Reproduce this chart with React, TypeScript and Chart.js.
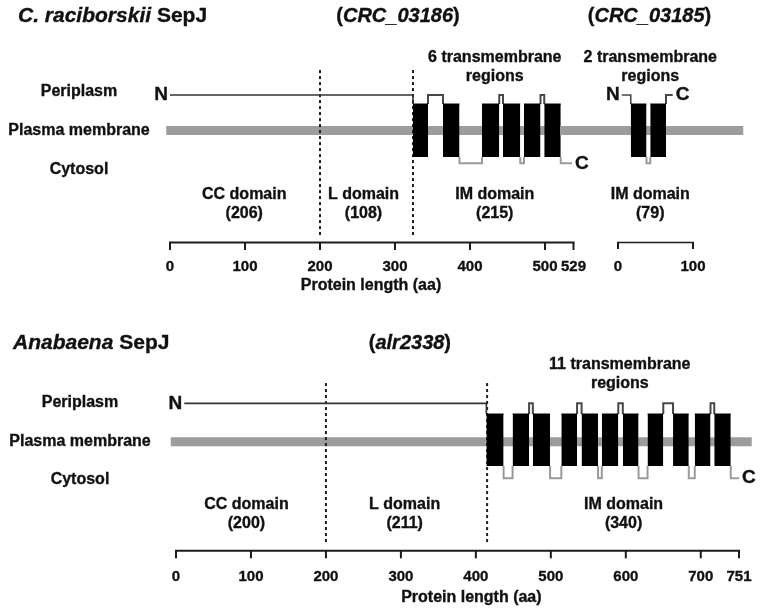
import React, { useEffect, useRef } from 'react';
import { Chart, registerables } from 'chart.js';

Chart.register(...registerables);

type Side = 'peri' | 'cyto';

// ===================== DATA =====================
// --- C. raciborskii SepJ, CRC_03186 (aa) ---
const CRC86_LENGTH = 529;
const CRC86_AXIS_END = 538; // where the drawn axis ends in the figure
const CRC86_TICK_VALUES = [0, 100, 200, 300, 400, 500, CRC86_AXIS_END];
const CRC86_TICK_LABELS = ['0', '100', '200', '300', '400', '500', String(CRC86_LENGTH)];
const CRC86_TM_START = [324, 364, 416, 444, 472, 499];
const CRC86_TM_END = [344, 386, 439, 467, 494, 521];
const CRC86_LOOP_SIDES: Side[] = ['peri', 'cyto', 'peri', 'cyto', 'peri'];
const CRC86_N_TAIL_START = 0;
const CRC86_C_TAIL_END = 536;
const CRC86_C_SIDE: Side = 'cyto';
const CRC86_MEMBRANE = [-5, 590];
const CRC86_DIVIDERS = [200, 324];
const CRC86_DOMAIN_NAMES = ['CC domain', 'L domain', 'IM domain'];
const CRC86_DOMAIN_SIZES = [206, 108, 215];
const CRC86_DOMAIN_LABEL_POS = [99, 258, 433];
const CRC86_TM_LABEL_POS = 433;
const CRC86_ID_LABEL_POS = 304;
const CRC86_AXIS_TITLE_POS = 268;

// --- C. raciborskii, CRC_03185 (aa) ---
const CRC85_TICK_VALUES = [0, 100];
const CRC85_TICK_LABELS = ['0', '100'];
const CRC85_TM_START = [17, 43];
const CRC85_TM_END = [38, 64];
const CRC85_LOOP_SIDES: Side[] = ['cyto'];
const CRC85_N_TAIL_START = 5;
const CRC85_C_TAIL_END = 73;
const CRC85_C_SIDE: Side = 'peri';
const CRC85_MEMBRANE = [-80, 167];
const CRC85_DIVIDERS: number[] = [];
const CRC85_DOMAIN_NAMES = ['IM domain'];
const CRC85_DOMAIN_SIZES = [79];
const CRC85_DOMAIN_LABEL_POS = [43];
const CRC85_TM_LABEL_POS = 43;
const CRC85_ID_LABEL_POS = 42;

// --- Anabaena SepJ, alr2338 (aa) ---
const ALR_TICK_VALUES = [0, 100, 200, 300, 400, 500, 600, 700, 751];
const ALR_TICK_LABELS = ['0', '100', '200', '300', '400', '500', '600', '700', '751'];
const ALR_TM_START = [414, 449, 476, 514, 541, 568, 596, 629, 663, 692, 718];
const ALR_TM_END = [437, 471, 499, 535, 563, 590, 617, 650, 684, 713, 740];
const ALR_LOOP_SIDES: Side[] = ['cyto', 'peri', 'cyto', 'peri', 'cyto', 'peri', 'cyto', 'peri', 'cyto', 'peri'];
const ALR_N_TAIL_START = 11;
const ALR_C_TAIL_END = 751;
const ALR_C_SIDE: Side = 'cyto';
const ALR_MEMBRANE = [-7, 768];
const ALR_DIVIDERS = [200, 415];
const ALR_DOMAIN_NAMES = ['CC domain', 'L domain', 'IM domain'];
const ALR_DOMAIN_SIZES = [200, 211, 340];
const ALR_DOMAIN_LABEL_POS = [94, 305, 597];
const ALR_TM_LABEL_POS = 592;
const ALR_ID_LABEL_POS = 312;
const ALR_AXIS_TITLE_POS = 394;

const ROW_LABELS = ['Periplasm', 'Plasma membrane', 'Cytosol'];

// ===================== STYLE =====================
const FONT = '"Liberation Sans", Arial, Helvetica, sans-serif';
const TEXT_COLOR = '#111111';
const AXIS_COLOR = '#1c1c1c';
const MEMBRANE_COLOR = '#9c9c9c';
const PERI_COLOR = '#474747';
const CYTO_COLOR = '#9a9a9a';
const N_COLOR = '#333333';
const BOX_COLOR = '#000000';
const DIVIDER_COLOR = '#1c1c1c';

interface Levels {
  peri: number;
  cyto: number;
  membrane: number;
  divTop: number;
  divBottom: number;
}
const TOP_LEVELS: Levels = { peri: 1.34, cyto: -1.24, membrane: 0, divTop: 2.28, divBottom: -3.94 };
const BOTTOM_LEVELS: Levels = { peri: 1.41, cyto: -1.47, membrane: -0.07, divTop: 2.19, divBottom: -4.04 };

interface Protein {
  tmStart: number[];
  tmEnd: number[];
  loopSides: Side[];
  nStart: number;
  cEnd: number;
  cSide: Side;
  membrane: number[];
  dividers: number[];
  nColor: string;
}

type Run = { t: string; i?: boolean };

function fontOf(size: number, italic?: boolean) {
  return `${italic ? 'italic ' : ''}bold ${size}px ${FONT}`;
}

function drawRuns(ctx: CanvasRenderingContext2D, runs: Run[], x: number, y: number, size: number, align: 'left' | 'center' | 'right' = 'center') {
  ctx.save();
  ctx.fillStyle = TEXT_COLOR;
  ctx.strokeStyle = TEXT_COLOR;
  ctx.lineWidth = 0.35;
  ctx.textBaseline = 'middle';
  ctx.textAlign = 'left';
  const widths = runs.map((r) => {
    ctx.font = fontOf(size, r.i);
    return ctx.measureText(r.t).width;
  });
  const total = widths.reduce((a, b) => a + b, 0);
  let cx = align === 'left' ? x : align === 'center' ? x - total / 2 : x - total;
  runs.forEach((r, k) => {
    ctx.font = fontOf(size, r.i);
    ctx.fillText(r.t, cx, y);
    ctx.strokeText(r.t, cx, y);
    cx += widths[k];
  });
  ctx.restore();
}

function txt(ctx: CanvasRenderingContext2D, s: string, x: number, y: number, size: number, align: 'left' | 'center' | 'right' = 'center') {
  drawRuns(ctx, [{ t: s }], x, y, size, align);
}

function buildDatasets(p: Protein, lv: Levels) {
  const ds: any[] = [];
  const L = (data: { x: number; y: number }[], color: string, width: number, order: number, extra: any = {}) => ({
    data,
    borderColor: color,
    backgroundColor: color,
    borderWidth: width,
    pointRadius: 0,
    pointHoverRadius: 0,
    fill: false,
    tension: 0,
    clip: false,
    order,
    borderCapStyle: 'butt',
    borderJoinStyle: 'miter',
    ...extra,
  });
  // membrane
  ds.push(L([{ x: p.membrane[0], y: lv.membrane }, { x: p.membrane[1], y: lv.membrane }], MEMBRANE_COLOR, 9, 10));
  // domain dividers
  p.dividers.forEach((d) =>
    ds.push(L([{ x: d, y: lv.divTop }, { x: d, y: lv.divBottom }], DIVIDER_COLOR, 2, 8, { borderDash: [3, 3] }))
  );
  // N-terminal tail (periplasm)
  const s0 = p.tmStart[0];
  ds.push(L([{ x: p.nStart, y: lv.peri }, { x: s0, y: lv.peri }, { x: s0, y: 1 }], p.nColor, 1.6, 5));
  // loops
  p.loopSides.forEach((side, i) => {
    const a = p.tmEnd[i];
    const b = p.tmStart[i + 1];
    const edge = side === 'peri' ? 1 : -1;
    const lvl = side === 'peri' ? lv.peri : lv.cyto;
    ds.push(
      L([{ x: a, y: edge }, { x: a, y: lvl }, { x: b, y: lvl }, { x: b, y: edge }], side === 'peri' ? PERI_COLOR : CYTO_COLOR, 2, 5)
    );
  });
  // C-terminal tail
  const eLast = p.tmEnd[p.tmEnd.length - 1];
  const cEdge = p.cSide === 'peri' ? 1 : -1;
  const cLvl = p.cSide === 'peri' ? lv.peri : lv.cyto;
  ds.push(
    L([{ x: eLast, y: cEdge }, { x: eLast, y: cLvl }, { x: p.cEnd, y: cLvl }], p.cSide === 'peri' ? PERI_COLOR : CYTO_COLOR, 2, 5)
  );
  // transmembrane boxes
  p.tmStart.forEach((s, i) =>
    ds.push(L([{ x: s, y: 1 }, { x: p.tmEnd[i], y: 1 }], BOX_COLOR, 1, 1, { fill: { value: -1 } }))
  );
  return ds;
}

function drawAxis(chart: any, values: number[], labels: string[], y: number, lineW: number, labelY: number, tickLen: number) {
  const xs = chart.scales.x;
  const ctx: CanvasRenderingContext2D = chart.ctx;
  const x0 = xs.getPixelForValue(values[0]);
  const x1 = xs.getPixelForValue(values[values.length - 1]);
  ctx.save();
  ctx.strokeStyle = AXIS_COLOR;
  ctx.lineCap = 'butt';
  ctx.lineWidth = lineW;
  ctx.beginPath();
  ctx.moveTo(x0 - 1, y);
  ctx.lineTo(x1 + 1, y);
  ctx.stroke();
  values.forEach((t, k) => {
    const px = xs.getPixelForValue(t);
    ctx.lineWidth = 2;
    ctx.beginPath();
    ctx.moveTo(px, y);
    ctx.lineTo(px, y + tickLen);
    ctx.stroke();
    txt(ctx, labels[k], px, labelY, 15);
  });
  ctx.restore();
}

function drawTerminals(chart: any, p: Protein, lv: Levels) {
  const xs = chart.scales.x;
  const ys = chart.scales.y;
  const ctx = chart.ctx;
  drawRuns(ctx, [{ t: 'N' }], xs.getPixelForValue(p.nStart) - 2, ys.getPixelForValue(lv.peri), 19, 'right');
  const cy = ys.getPixelForValue(p.cSide === 'peri' ? lv.peri : lv.cyto);
  drawRuns(ctx, [{ t: 'C' }], xs.getPixelForValue(p.cEnd) + 3, cy, 19, 'left');
}

function drawDomains(chart: any, names: string[], sizes: number[], pos: number[], y1: number, y2: number) {
  const xs = chart.scales.x;
  names.forEach((n, i) => {
    const px = xs.getPixelForValue(pos[i]);
    txt(chart.ctx, n, px, y1, 16);
    txt(chart.ctx, `(${sizes[i]})`, px, y2, 16);
  });
}

function drawTmLabel(chart: any, count: number, pos: number, y1: number, y2: number) {
  const px = chart.scales.x.getPixelForValue(pos);
  txt(chart.ctx, `${count} transmembrane`, px, y1, 16);
  txt(chart.ctx, 'regions', px, y2, 16);
}

function makeConfig(xMax: number, padding: any, datasets: any[], annotate: (c: any) => void) {
  return {
    type: 'line',
    data: { datasets },
    options: {
      animation: false,
      responsive: false,
      maintainAspectRatio: false,
      events: [],
      layout: { padding },
      scales: {
        x: { type: 'linear', min: 0, max: xMax, display: false },
        y: { type: 'linear', min: -1, max: 1, display: false },
      },
      plugins: { legend: { display: false }, tooltip: { enabled: false } },
    },
    plugins: [{ id: 'annot', afterDraw: (c: any) => annotate(c) }],
  } as any;
}

// ===================== PROTEINS =====================
const CRC86: Protein = {
  tmStart: CRC86_TM_START,
  tmEnd: CRC86_TM_END,
  loopSides: CRC86_LOOP_SIDES,
  nStart: CRC86_N_TAIL_START,
  cEnd: CRC86_C_TAIL_END,
  cSide: CRC86_C_SIDE,
  membrane: CRC86_MEMBRANE,
  dividers: CRC86_DIVIDERS,
  nColor: N_COLOR,
};
const CRC85: Protein = {
  tmStart: CRC85_TM_START,
  tmEnd: CRC85_TM_END,
  loopSides: CRC85_LOOP_SIDES,
  nStart: CRC85_N_TAIL_START,
  cEnd: CRC85_C_TAIL_END,
  cSide: CRC85_C_SIDE,
  membrane: CRC85_MEMBRANE,
  dividers: CRC85_DIVIDERS,
  nColor: PERI_COLOR,
};
const ALR: Protein = {
  tmStart: ALR_TM_START,
  tmEnd: ALR_TM_END,
  loopSides: ALR_LOOP_SIDES,
  nStart: ALR_N_TAIL_START,
  cEnd: ALR_C_TAIL_END,
  cSide: ALR_C_SIDE,
  membrane: ALR_MEMBRANE,
  dividers: ALR_DIVIDERS,
  nColor: N_COLOR,
};

function configTopMain() {
  return makeConfig(
    CRC86_AXIS_END,
    { left: 170, right: 26.5, top: 104, bottom: 143 },
    buildDatasets(CRC86, TOP_LEVELS),
    (c) => {
      const ctx = c.ctx;
      const xs = c.scales.x;
      drawRuns(ctx, [{ t: 'C. raciborskii', i: true }, { t: ' SepJ' }], 18, 16, 21, 'left');
      drawRuns(ctx, [{ t: '(' }, { t: 'CRC_03186', i: true }, { t: ')' }], xs.getPixelForValue(CRC86_ID_LABEL_POS), 16, 20);
      drawTmLabel(c, CRC86_TM_START.length, CRC86_TM_LABEL_POS, 57.5, 76.7);
      txt(ctx, ROW_LABELS[0], 79, 91.6, 16);
      txt(ctx, ROW_LABELS[1], 79, 130.3, 16);
      txt(ctx, ROW_LABELS[2], 79, 169.5, 16);
      drawTerminals(c, CRC86, TOP_LEVELS);
      drawDomains(c, CRC86_DOMAIN_NAMES, CRC86_DOMAIN_SIZES, CRC86_DOMAIN_LABEL_POS, 195, 213.5);
      drawAxis(c, CRC86_TICK_VALUES, CRC86_TICK_LABELS, 242.5, 2, 266.7, 7.5);
      txt(ctx, 'Protein length (aa)', xs.getPixelForValue(CRC86_AXIS_TITLE_POS), 285.5, 16);
    }
  );
}

function configTopSmall() {
  return makeConfig(
    CRC85_TICK_VALUES[CRC85_TICK_VALUES.length - 1],
    { left: 58, right: 67, top: 104, bottom: 143 },
    buildDatasets(CRC85, TOP_LEVELS),
    (c) => {
      const ctx = c.ctx;
      const xs = c.scales.x;
      drawRuns(ctx, [{ t: '(' }, { t: 'CRC_03185', i: true }, { t: ')' }], xs.getPixelForValue(CRC85_ID_LABEL_POS), 16, 20);
      drawTmLabel(c, CRC85_TM_START.length, CRC85_TM_LABEL_POS, 57.5, 76.7);
      drawTerminals(c, CRC85, TOP_LEVELS);
      drawDomains(c, CRC85_DOMAIN_NAMES, CRC85_DOMAIN_SIZES, CRC85_DOMAIN_LABEL_POS, 195, 213.5);
      drawAxis(c, CRC85_TICK_VALUES, CRC85_TICK_LABELS, 242.5, 1.5, 266.7, 6.5);
    }
  );
}

function configBottom() {
  return makeConfig(
    ALR_TICK_VALUES[ALR_TICK_VALUES.length - 1],
    { left: 176, right: 21, top: 114, bottom: 145 },
    buildDatasets(ALR, BOTTOM_LEVELS),
    (c) => {
      const ctx = c.ctx;
      const xs = c.scales.x;
      drawRuns(ctx, [{ t: 'Anabaena', i: true }, { t: ' SepJ' }], 13, 43, 21, 'left');
      drawRuns(ctx, [{ t: '(' }, { t: 'alr2338', i: true }, { t: ')' }], xs.getPixelForValue(ALR_ID_LABEL_POS), 43, 20);
      drawTmLabel(c, ALR_TM_START.length, ALR_TM_LABEL_POS, 65, 84);
      txt(ctx, ROW_LABELS[0], 80, 102.5, 16);
      txt(ctx, ROW_LABELS[1], 80, 141.7, 16);
      txt(ctx, ROW_LABELS[2], 80, 179.5, 16);
      drawTerminals(c, ALR, BOTTOM_LEVELS);
      drawDomains(c, ALR_DOMAIN_NAMES, ALR_DOMAIN_SIZES, ALR_DOMAIN_LABEL_POS, 204.5, 224);
      drawAxis(c, ALR_TICK_VALUES, ALR_TICK_LABELS, 250.8, 2, 276.7, 7.5);
      txt(ctx, 'Protein length (aa)', xs.getPixelForValue(ALR_AXIS_TITLE_POS), 298, 16);
    }
  );
}

function ChartCanvas(props: { left: number; top: number; width: number; height: number; make: () => any }) {
  const ref = useRef<HTMLCanvasElement>(null);
  useEffect(() => {
    const chart = new Chart(ref.current as HTMLCanvasElement, props.make());
    return () => chart.destroy();
  }, []);
  return (
    <canvas
      ref={ref}
      width={props.width}
      height={props.height}
      style={{ position: 'absolute', left: props.left, top: props.top, width: props.width, height: props.height }}
    />
  );
}

export default function App() {
  return (
    <div style={{ position: 'absolute', left: 0, top: 0, width: 760, height: 611, background: '#ffffff', overflow: 'hidden' }}>
      <ChartCanvas left={0} top={0} width={600} height={300} make={configTopMain} />
      <ChartCanvas left={560} top={0} width={200} height={300} make={configTopSmall} />
      <ChartCanvas left={0} top={300} width={760} height={311} make={configBottom} />
    </div>
  );
}
